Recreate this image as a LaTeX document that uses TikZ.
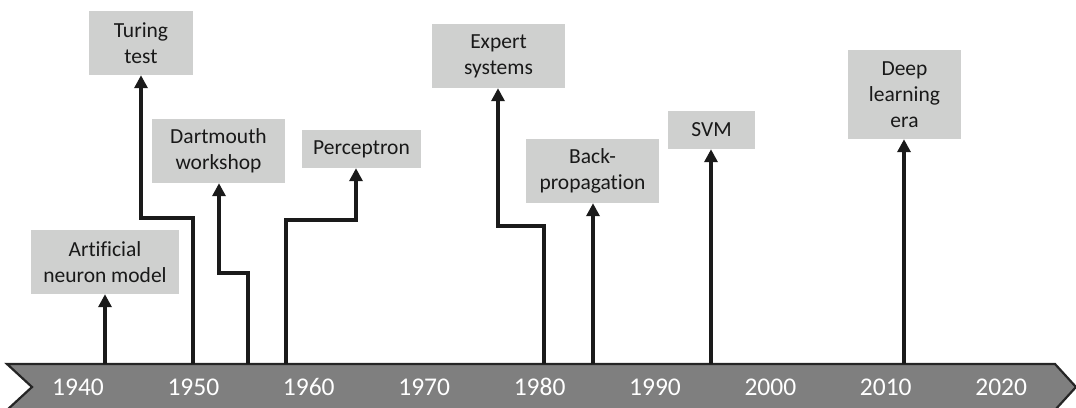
\documentclass[tikz,border=0pt]{standalone}
\usepackage{fontspec}
\setmainfont{Carlito}[Ligatures={NoCommon}]
\usetikzlibrary{arrows.meta}
\definecolor{boxgray}{HTML}{CFD0CF}
\definecolor{bargray}{HTML}{7F7F7F}
\definecolor{lineblk}{HTML}{1A1A1A}
\begin{document}
\begin{tikzpicture}[x=1pt,y=-1pt,
  evbox/.style={fill=boxgray,draw=none,inner sep=0pt,align=center,
    font=\fontsize{21.5}{26.2}\selectfont,text=black!90},
  arr/.style={line width=4pt,draw=lineblk,-{Triangle[width=13pt,length=13pt]}},
  yearlbl/.style={font=\fontsize{25.5}{30}\selectfont,text=white,inner sep=0pt}]
\useasboundingbox (0,0) rectangle (1076,407);
% timeline bar
\path[fill=bargray,draw=lineblk!95,line width=2.2pt,line join=miter]
  (7,364) -- (1055,364) -- (1076,387) -- (1055,410) -- (7,410) -- (32,387) -- cycle;
% years
\foreach \yr [count=\i from 0] in {1940,1950,1960,1970,1980,1990,2000,2010,2020}
  \node[yearlbl] (y\yr) at ({78+115.4*\i},387) {\yr};
% event boxes
\node[evbox,minimum width=148pt,minimum height=64pt] (art) at (105,262) {Artificial\\neuron model};
\node[evbox,minimum width=104pt,minimum height=64pt] (tur) at (141,43) {Turing\\test};
\node[evbox,minimum width=133pt,minimum height=64pt] (dar) at (218.5,151) {Dartmouth\\workshop};
\node[evbox,minimum width=119pt,minimum height=38pt] (per) at (361.5,149) {Perceptron};
\node[evbox,minimum width=133pt,minimum height=64pt] (exp) at (498.5,56) {Expert\\systems};
\node[evbox,minimum width=133pt,minimum height=64pt] (bck) at (592.5,171) {Back-\\propagation};
\node[evbox,minimum width=87pt,minimum height=38pt] (svm) at (711.5,130) {SVM};
\node[evbox,minimum width=113pt,minimum height=89pt] (dle) at (904.5,94.5) {Deep\\learning\\era};
% anchors on the bar
\coordinate (b1) at (105,364);
\coordinate (b2) at (193,364);
\coordinate (b3) at (248,364);
\coordinate (b4) at (286,364);
\coordinate (b5) at (544,364);
\coordinate (b6) at (593,364);
\coordinate (b7) at (711,364);
\coordinate (b8) at (904,364);
\coordinate (k2) at (141,218);
\coordinate (k3) at (219,273);
\coordinate (k4) at (356,220);
\coordinate (k5) at (498,226);
% connectors
\draw[arr] (b1) -- (b1 |- art.south);
\draw[arr] (b2) |- (k2) -- (k2 |- tur.south);
\draw[arr] (b3) |- (k3) -- (k3 |- dar.south);
\draw[arr] (b4) |- (k4) -- (k4 |- per.south);
\draw[arr] (b5) |- (k5) -- (k5 |- exp.south);
\draw[arr] (b6) -- (b6 |- bck.south);
\draw[arr] (b7) -- (b7 |- svm.south);
\draw[arr] (b8) -- (b8 |- dle.south);
\end{tikzpicture}
\end{document}
